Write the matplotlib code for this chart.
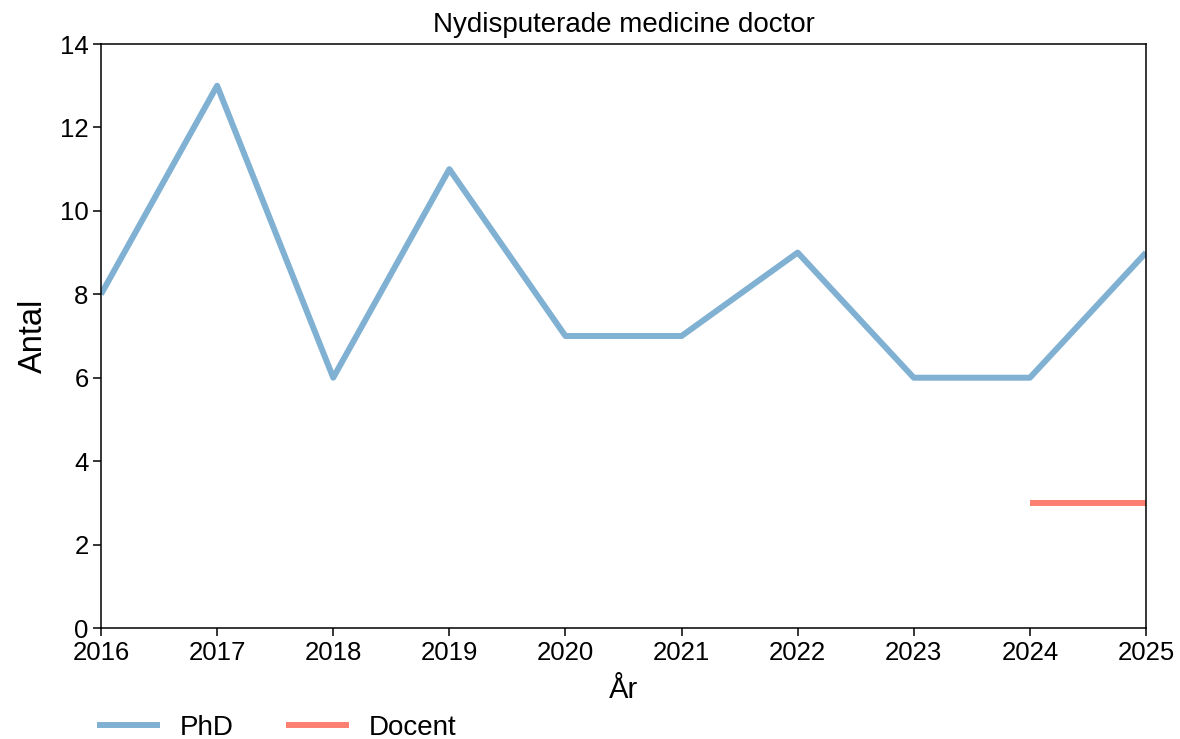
import matplotlib.pyplot as plt

plt.rcParams['font.family'] = ['Liberation Sans', 'DejaVu Sans']
plt.rcParams['axes.linewidth'] = 1.1

years = [2016, 2017, 2018, 2019, 2020, 2021, 2022, 2023, 2024, 2025]
phd = [8, 13, 6, 11, 7, 7, 9, 6, 6, 9]
docent_years = [2024, 2025]
docent = [3, 3]

fig = plt.figure(figsize=(11.8, 7.39), dpi=100)
ax = fig.add_axes([101 / 1180, 1 - 628 / 739, (1146 - 101) / 1180, (628 - 44) / 739])

ax.plot(years, phd, color='#80b1d3', lw=4.3, label='PhD', solid_capstyle='butt')
ax.plot(docent_years, docent, color='#fb8072', lw=4.3, label='Docent', solid_capstyle='butt')

ax.set_xlim(2016, 2025)
ax.set_ylim(0, 14)
ax.set_xticks(years)
ax.set_yticks(range(0, 15, 2))
ax.tick_params(labelsize=18.5, length=6, width=1.1, pad=3)
ax.set_title('Nydisputerade medicine doctor', fontsize=20, pad=9)
ax.set_xlabel('År', fontsize=21, labelpad=8)
ax.set_ylabel('Antal', fontsize=23.5, labelpad=8)

ax.legend(loc='upper left', bbox_to_anchor=(-0.0144, -0.130), ncol=2, frameon=False,
          fontsize=20, handlelength=2.27, handletextpad=0.72, columnspacing=1.87,
          borderaxespad=0)

fig.savefig('out.png', dpi=100)
